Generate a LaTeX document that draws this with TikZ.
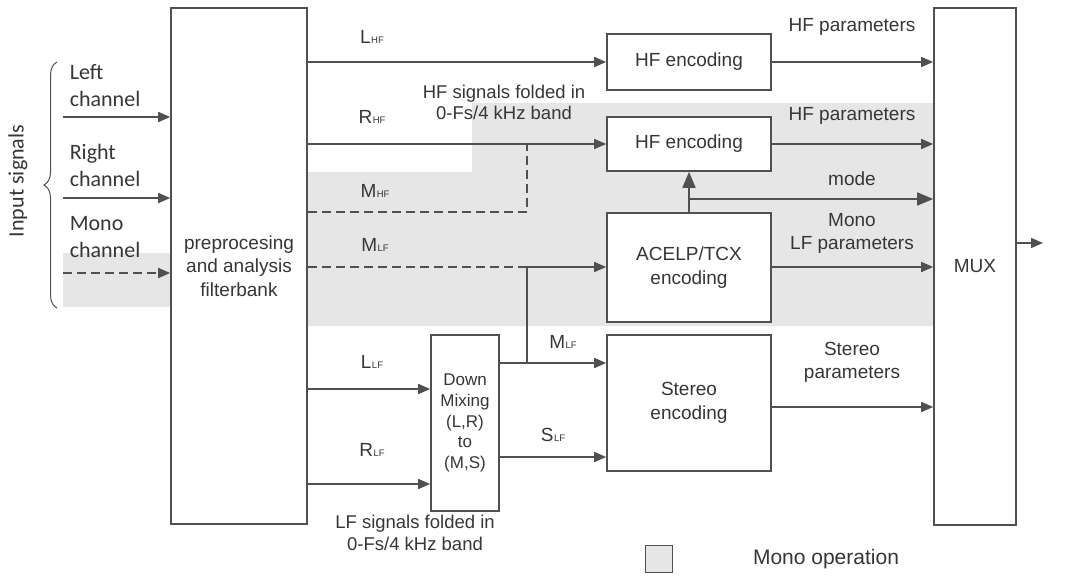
\documentclass[tikz,border=0pt]{standalone}
\usepackage{fontspec}
\setmainfont{Liberation Sans}
\newfontfamily\calfont{Carlito}
\usetikzlibrary{arrows.meta,decorations.pathreplacing}

\definecolor{linegray}{HTML}{505050}
\definecolor{textgray}{HTML}{363636}
\definecolor{monogray}{HTML}{E6E6E6}
\newcommand{\sgl}[2]{#1\kern.5pt{\fontsize{9.5}{9.5}\selectfont #2}}
\newcommand{\fs}[2]{\fontsize{#1}{#2}\selectfont}

\begin{document}
\begin{tikzpicture}[x=1pt,y=-1pt,>={Triangle[length=12pt,width=10pt]},
  line width=1.6pt,draw=linegray,text=textgray,font=\fs{19}{23.5},
  blk/.style={draw=linegray,fill=white,align=center,inner sep=0pt},
  dsh/.style={dash pattern=on 9pt off 5pt},
  bigtip/.style={-{Triangle[length=16pt,width=13pt]}},
  lbl/.style={inner sep=0pt,align=center}]
  \useasboundingbox (0,0) rectangle (1068,576);
  % mono operation areas
  \fill[monogray] (63,253) rectangle (171,307);
  \fill[monogray] (307,172)--(472,172)--(472,103)--(934,103)--(934,326)--(307,326)--cycle;
  % blocks
  \node[blk,minimum width=136,minimum height=516] (pre) at (239,266)
    {preprocesing\\and analysis\\filterbank};
  \node[blk,minimum width=82,minimum height=517] (mux) at (975,266.5) {MUX};
  \node[blk,minimum width=164,minimum height=56] (hfa) at (689,62) {HF encoding};
  \node[blk,minimum width=164,minimum height=54] (hfb) at (689,144) {HF encoding};
  \node[blk,minimum width=164,minimum height=109] (acelp) at (689,267.5)
    {ACELP/TCX\\encoding};
  \node[blk,minimum width=164,minimum height=136] (ster) at (689,403)
    {Stereo\\encoding};
  \node[blk,minimum width=68,minimum height=176,font=\fs{17}{20.7}] (dmx) at (465,423)
    {Down\\Mixing\\(L,R)\\to\\(M,S)};
  % junctions
  \coordinate (inl) at (63,117);
  \coordinate (inr) at (63,198);
  \coordinate (inm) at (63,273);
  \coordinate (jmhf) at (527,212);
  \coordinate (jmlf) at (527,267);
  \coordinate (jdm) at (527,363);
  \coordinate (jsl) at (527,457);
  \coordinate (jll) at (307,389);
  \coordinate (jrl) at (307,484);
  \coordinate (jmode) at (689,199);
  \coordinate (muxout) at (1043,243);
  % inputs
  \draw[->] (inl) -- (inl -| pre.west);
  \draw[->] (inr) -- (inr -| pre.west);
  \draw[->,dsh] (inm) -- (inm -| pre.west);
  % HF paths
  \draw[->] (pre.east |- hfa) -- (hfa);
  \draw[->] (pre.east |- hfb) -- (hfb);
  \draw[dsh] (pre.east |- jmhf) -- (jmhf) -- (jmhf |- hfb);
  % LF paths
  \draw[dsh] (pre.east |- jmlf) -- (jmlf);
  \draw[->] (jmlf) -- (jmlf -| acelp.west);
  \draw (jmlf) -- (jdm);
  \draw[->] (jll) -- (jll -| dmx.west);
  \draw[->] (jrl) -- (jrl -| dmx.west);
  \draw[->] (dmx.east |- jdm) -- (jdm -| ster.west);
  \draw[->] (dmx.east |- jsl) -- (jsl -| ster.west);
  % to the MUX
  \draw[->] (hfa) -- (hfa -| mux.west);
  \draw[->] (hfb) -- (hfb -| mux.west);
  \draw[bigtip] (acelp.north) -- (hfb.south);
  \draw[bigtip] (jmode) -- (jmode -| mux.west);
  \draw[->] (acelp.east |- jmlf) -- (jmlf -| mux.west);
  \draw[->] (ster.east |- 0,407) -- (mux.west |- 0,407);
  \draw[->] (mux.east |- muxout) -- (muxout);
  % signal labels
  \node[lbl] (llhf) at (372,37) {\sgl{L}{HF}};
  \node[lbl] (lrhf) at (372,117) {\sgl{R}{HF}};
  \node[lbl] (lmhf) at (375,191) {\sgl{M}{HF}};
  \node[lbl] (lmlf) at (375,245) {\sgl{M}{LF}};
  \node[lbl] (lllf) at (372,362) {\sgl{L}{LF}};
  \node[lbl] (lrlf) at (372,450) {\sgl{R}{LF}};
  \node[lbl] (ldml) at (563,342) {\sgl{M}{LF}};
  \node[lbl] (ldsl) at (553,435) {\sgl{S}{LF}};
  \node[lbl,font=\fs{18.5}{21}] (lhffold) at (504,102) {HF signals folded in\\0-Fs/4 kHz band};
  \node[lbl,font=\fs{18.5}{22}] (llffold) at (415,533) {LF signals folded in\\0-Fs/4 kHz band};
  \node[lbl] (lhfpa) at (852,27) {HF parameters};
  \node[lbl] (lhfpb) at (852,116) {HF parameters};
  \node[lbl] (lmode) at (852,179) {mode};
  \node[lbl,font=\fs{19}{23}] (lmono) at (852,233) {Mono\\LF parameters};
  \node[lbl,font=\fs{19}{23}] (lster) at (852,362) {Stereo\\parameters};
  % inputs text
  \node[lbl,anchor=west,align=left,font=\calfont\fs{22}{27}] (tleft) at (69,86) {Left\\channel};
  \node[lbl,anchor=west,align=left,font=\calfont\fs{22}{27}] (tright) at (69,165) {Right\\channel};
  \node[lbl,anchor=west,align=left,font=\calfont\fs{22}{27}] (tmono) at (69,237) {Mono\\channel};
  \draw[line width=1pt,decorate,decoration={brace,amplitude=13pt}] (57,308) -- (57,62);
  \node[lbl,rotate=90,font=\calfont\fs{22}{26}] (tinput) at (18,181) {Input signals};
  % legend
  \node[draw=linegray,fill=monogray,line width=1pt,minimum size=27,inner sep=0pt] (legbox) at (659,559) {};
  \node[lbl,font=\fs{21}{24}] (legtext) at (826,559) {Mono operation};
\end{tikzpicture}
\end{document}
